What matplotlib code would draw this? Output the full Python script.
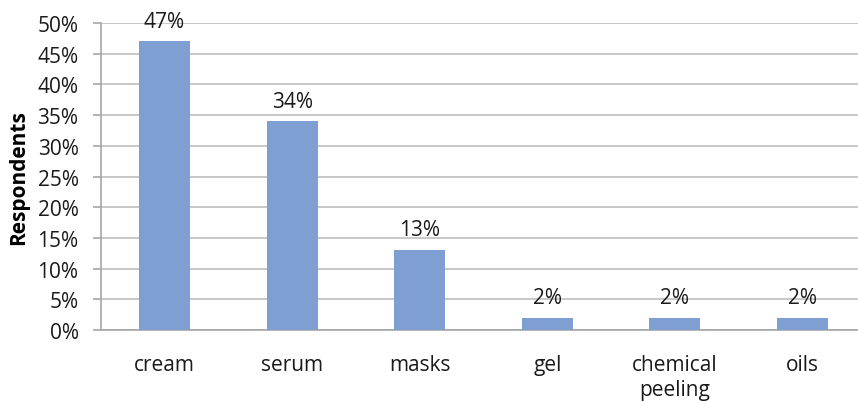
import matplotlib.pyplot as plt
from matplotlib.ticker import PercentFormatter

categories = ["cream", "serum", "masks", "gel", "chemical\npeeling", "oils"]
values = [47, 34, 13, 2, 2, 2]
yticks = [0, 5, 10, 15, 20, 25, 30, 35, 40, 45, 50]

plt.rcParams["font.family"] = ["Open Sans", "DejaVu Sans"]

fig = plt.figure(figsize=(8.58, 4.02), dpi=100)
ax = fig.add_axes([0.1174, 0.1766, 0.8923, 0.7637])

x = list(range(len(categories)))
bars = ax.bar(x, values, width=0.4, color="#7F9ED2", zorder=3)

for xi, v in zip(x, values):
    ax.annotate(f"{v}%", (xi, v), xytext=(0, 7), textcoords="offset points",
                ha="center", va="bottom", fontsize=15, color="#1a1a1a")

ax.set_xlim(-0.5, len(categories) - 0.5)
ax.set_ylim(0, 50)
ax.set_yticks(yticks)
ax.yaxis.set_major_formatter(PercentFormatter(decimals=0))
ax.set_xticks(x)
ax.set_xticklabels(categories, fontsize=15, color="#1a1a1a", linespacing=1.25)
ax.tick_params(axis="x", length=0, pad=17)
ax.tick_params(axis="y", length=6, width=1.2, color="#A6A6A6", pad=10,
               labelsize=15, labelcolor="#1a1a1a")

ax.yaxis.grid(True, color="#BFBFBF", linewidth=1.2, zorder=0)
for s in ["top", "right"]:
    ax.spines[s].set_visible(False)
for s in ["left", "bottom"]:
    ax.spines[s].set_color("#A6A6A6")
    ax.spines[s].set_linewidth(1.2)

ax.set_ylabel("Respondents", fontsize=15, fontweight="bold", labelpad=6)

fig.savefig("out.png", dpi=100)
